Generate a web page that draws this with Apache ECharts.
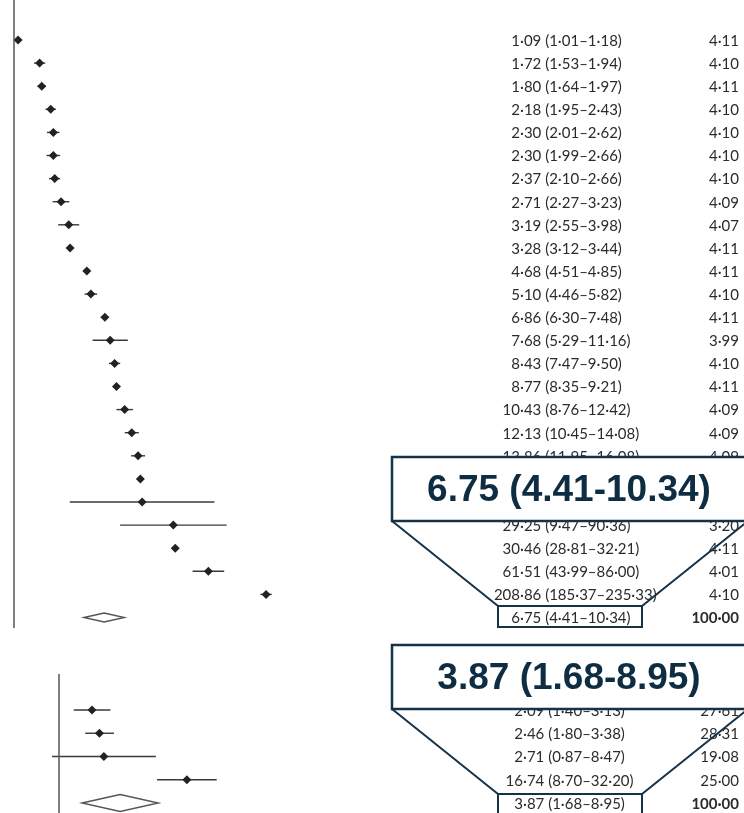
<!DOCTYPE html>
<html><head><meta charset="utf-8">
<script src="https://cdn.jsdelivr.net/npm/echarts@6/dist/echarts.min.js"></script>
<style>html,body{margin:0;padding:0;background:#fff}#c{width:744px;height:813px}</style>
</head><body><div id="c"></div>
<script>
// ---- data: top panel ----
const topEst    = [1.09,1.72,1.80,2.18,2.30,2.30,2.37,2.71,3.19,3.28,4.68,5.10,6.86,7.68,8.43,8.77,10.43,12.13,13.86,14.55,15.10,29.25,30.46,61.51,208.86];
const topLo     = [1.01,1.53,1.64,1.95,2.01,1.99,2.10,2.27,2.55,3.12,4.51,4.46,6.30,5.29,7.47,8.35,8.76,10.45,11.95,14.01,3.26,9.47,28.81,43.99,185.37];
const topHi     = [1.18,1.94,1.97,2.43,2.62,2.66,2.66,3.23,3.98,3.44,4.85,5.82,7.48,11.16,9.50,9.21,12.42,14.08,16.08,15.11,69.93,90.36,32.21,86.00,235.33];
const topWeight = [4.11,4.10,4.11,4.10,4.10,4.10,4.10,4.09,4.07,4.11,4.11,4.10,4.11,3.99,4.10,4.11,4.09,4.09,4.09,4.10,2.70,3.20,4.11,4.01,4.10];
const topPooled = [6.75,4.41,10.34,100.00];
// ---- data: bottom panel ----
const botEst    = [2.09,2.46,2.71,16.74];
const botLo     = [1.40,1.80,0.87,8.70];
const botHi     = [3.13,3.38,8.47,32.20];
const botWeight = [27.61,28.31,19.08,25.00];
const botPooled = [3.87,1.68,8.95,100.00];

const fmt = v => v.toFixed(2).replace('.', '\u00B7');
const callout = p => p[0].toFixed(2) + ' (' + p[1].toFixed(2) + '-' + p[2].toFixed(2) + ')';

function rows(est, lo, hi, w, pooled) {
  const d = est.map((e, i) => [i, e, lo[i], hi[i], w[i], 0]);
  d.push([est.length, pooled[0], pooled[1], pooled[2], pooled[3], 1]);
  return d;
}

const FONT = 'Lato';
const TXT = '#2b2b2b';
function makeRender(decX, wX, poolHalfH) {
  return function (params, api) {
    const i = api.value(0), est = api.value(1), lo = api.value(2), hi = api.value(3), w = api.value(4), pooled = api.value(5);
    const c = api.coord([est, i]), cl = api.coord([lo, i]), ch = api.coord([hi, i]);
    const children = [];
    if (pooled) {
      children.push({type:'polygon', shape:{points:[[cl[0],c[1]],[c[0],c[1]-poolHalfH],[ch[0],c[1]],[c[0],c[1]+poolHalfH]]},
        style:{fill:'#fff', stroke:'#555', lineWidth:1.4}});
    } else {
      children.push({type:'line', shape:{x1:cl[0], y1:c[1], x2:ch[0], y2:c[1]}, style:{stroke:'#3a3a3a', lineWidth:1.4}});
      children.push({type:'polygon', shape:{points:[[c[0]-4.5,c[1]],[c[0],c[1]-4.5],[c[0]+4.5,c[1]],[c[0],c[1]+4.5]]}, style:{fill:'#222'}});
    }
    const full = fmt(est) + ' (' + fmt(lo) + '\u2013' + fmt(hi) + ')';
    const k = full.indexOf('\u00B7');
    const ty = c[1] + 1;
    children.push({type:'text', style:{x:decX, y:ty, text:full.slice(0,k), font:'15px '+FONT, fill:TXT, align:'right', textAlign:'right', verticalAlign:'middle', textVerticalAlign:'middle'}});
    children.push({type:'text', style:{x:decX, y:ty, text:full.slice(k), font:'15px '+FONT, fill:TXT, align:'left', textAlign:'left', verticalAlign:'middle', textVerticalAlign:'middle'}});
    children.push({type:'text', style:{x:wX, y:ty, text:fmt(w), font:(pooled?'bold ':'')+'15px '+FONT, fill:TXT, align:'right', textAlign:'right', verticalAlign:'middle', textVerticalAlign:'middle'}});
    return {type:'group', children};
  };
}

const nullLine = {silent:true, symbol:'none', label:{show:false}, data:[{xAxis:1}], lineStyle:{color:'#555', width:1.5, type:'solid'}, animation:false};

const NAVY = '#163247';
function calloutGraphic(top, textStr, smallH) {
  const bottom = top + 64, smallTop = bottom + 85;
  return [
    {type:'polyline', z:100, shape:{points:[[392,bottom],[498,smallTop]]}, style:{stroke:NAVY, lineWidth:2, fill:null}},
    {type:'polyline', z:100, shape:{points:[[748,bottom],[642,smallTop]]}, style:{stroke:NAVY, lineWidth:2, fill:null}},
    {type:'rect', z:100, shape:{x:498, y:smallTop, width:144, height:smallH}, style:{stroke:NAVY, lineWidth:2, fill:null}},
    {type:'rect', z:100, shape:{x:392, y:top, width:360, height:64}, style:{stroke:NAVY, lineWidth:2.5, fill:'#fff'}},
    {type:'text', z:101, style:{x:569, y:top+34, text:textStr, font:'bold 37px "Liberation Sans", Arial, sans-serif', fill:'#0e2d42', align:'center', textAlign:'center', verticalAlign:'middle', textVerticalAlign:'middle'}}
  ];
}

const chart = echarts.init(document.getElementById('c'), null, {renderer:'canvas'});
chart.setOption({
  animation:false,
  backgroundColor:'#fff',
  grid:[
    {left:14, top:0, width:326, height:628},
    {left:26.8, top:674, width:346.6, height:139}
  ],
  xAxis:[
    {type:'log', logBase:10, min:1, max:1000, gridIndex:0, show:false},
    {type:'log', logBase:10, min:0.5, max:1000, gridIndex:1, show:false}
  ],
  yAxis:[
    {type:'value', inverse:true, min:-1.732, max:25.455, gridIndex:0, show:false},
    {type:'value', inverse:true, min:-1.548, max:4.430, gridIndex:1, show:false}
  ],
  series:[
    {type:'custom', xAxisIndex:0, yAxisIndex:0, data:rows(topEst, topLo, topHi, topWeight, topPooled),
     renderItem:makeRender(520, 739, 4.5), encode:{x:[1,2,3], y:0}, clip:false, markLine:nullLine},
    {type:'custom', xAxisIndex:1, yAxisIndex:1, data:rows(botEst, botLo, botHi, botWeight, botPooled),
     renderItem:makeRender(523, 739, 8.5), encode:{x:[1,2,3], y:0}, clip:false, markLine:nullLine}
  ],
  graphic:[].concat(calloutGraphic(457, callout(topPooled), 21), calloutGraphic(645, callout(botPooled), 24))
});
</script></body></html>
